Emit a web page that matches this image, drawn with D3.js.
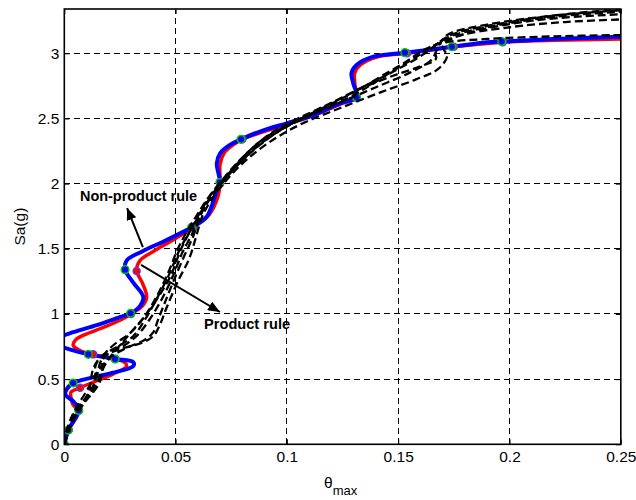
<!DOCTYPE html>
<html><head><meta charset="utf-8">
<script src="https://cdn.jsdelivr.net/npm/d3@7"></script>
<style>
html,body{margin:0;padding:0;background:#fff;}
svg{display:block;font-family:"Liberation Sans",Arial,sans-serif;}
</style></head>
<body><svg id="chart" width="636" height="500"></svg>
<script>
// ---------------- data ----------------
const xTicks = [0, 0.05, 0.1, 0.15, 0.2, 0.25];
const xTickLabels = ["0", "0.05", "0.1", "0.15", "0.2", "0.25"];
const yTicks = [0, 0.5, 1, 1.5, 2, 2.5, 3];
const yTickLabels = ["0", "0.5", "1", "1.5", "2", "2.5", "3"];

// Non-product rule (blue)
const nonProductCurve = [[0,0],[0.0018,0.11],[0.0065,0.26],[0.004,0.33],[0.0005,0.38],[0.001,0.42],[0.004,0.47],[0.012,0.51],[0.022,0.55],[0.031,0.6],[0.031,0.63],[0.0228,0.655],[0.0108,0.69],[0.004,0.72],[-0.002,0.76],[-0.003,0.79],[-0.002,0.82],[0.004,0.86],[0.0146,0.915],[0.024,0.97],[0.0298,1.005],[0.034,1.06],[0.0355,1.13],[0.031,1.24],[0.0273,1.34],[0.028,1.41],[0.035,1.48],[0.045,1.56],[0.0572,1.665],[0.064,1.746],[0.0685,1.95],[0.0699,2.01],[0.0685,2.156],[0.07,2.233],[0.0744,2.297],[0.0794,2.34],[0.0879,2.40],[0.0999,2.463],[0.11,2.514],[0.1238,2.616],[0.1313,2.662],[0.1298,2.77],[0.129,2.847],[0.1313,2.91],[0.1388,2.974],[0.153,3.005],[0.165,3.03],[0.1741,3.05],[0.19,3.085],[0.1965,3.09],[0.22,3.11],[0.25,3.127]];
const nonProductMarkers = [[0,0],[0.0018,0.11],[0.0065,0.26],[0.004,0.47],[0.0228,0.655],[0.0108,0.69],[0.0298,1.005],[0.0273,1.34],[0.0572,1.665],[0.0699,2.01],[0.0794,2.34],[0.1313,2.662],[0.153,3.005],[0.1741,3.05],[0.1965,3.09]];

// Product rule (red)
const productCurve = [[0,0],[0.002,0.11],[0.0065,0.26],[0.004,0.3],[0.003,0.36],[0.003,0.4],[0.0071,0.434],[0.015,0.49],[0.022,0.54],[0.028,0.6],[0.027,0.63],[0.023,0.655],[0.013,0.69],[0.007,0.72],[0.004,0.76],[0.005,0.8],[0.009,0.84],[0.018,0.9],[0.026,0.96],[0.030,1.0],[0.035,1.06],[0.037,1.13],[0.035,1.24],[0.0325,1.33],[0.034,1.41],[0.04,1.48],[0.048,1.56],[0.058,1.665],[0.065,1.76],[0.069,1.9],[0.07,2.0],[0.07,2.15],[0.072,2.24],[0.076,2.3],[0.08,2.34],[0.088,2.39],[0.1,2.455],[0.11,2.51],[0.124,2.61],[0.131,2.66],[0.1305,2.77],[0.1305,2.85],[0.133,2.91],[0.14,2.97],[0.154,3.0],[0.165,3.025],[0.175,3.05],[0.197,3.085],[0.22,3.1],[0.25,3.11]];
const productMarkers = [[0,0],[0.002,0.11],[0.0065,0.26],[0.0071,0.434],[0.023,0.655],[0.013,0.69],[0.030,1.0],[0.0325,1.33],[0.058,1.665],[0.07,2.0],[0.08,2.34],[0.131,2.66],[0.154,3.0],[0.175,3.05],[0.197,3.085]];

// Individual record curves (black dashed)
const record1 = [[0,0],[0.0015,0.1],[0.0035,0.2],[0.007,0.3],[0.012,0.4],[0.014,0.5],[0.014,0.6],[0.017,0.68],[0.024,0.75],[0.031,0.83],[0.036,0.95],[0.041,1.1],[0.047,1.3],[0.052,1.5],[0.057,1.65],[0.062,1.8],[0.068,1.95],[0.075,2.1],[0.083,2.25],[0.094,2.4],[0.105,2.5],[0.12,2.62],[0.135,2.75],[0.15,2.88],[0.162,3.0],[0.168,3.08],[0.175,3.15],[0.2,3.24],[0.225,3.3],[0.25,3.34]];
const record2 = [[0,0],[0.002,0.1],[0.005,0.25],[0.009,0.33],[0.013,0.42],[0.016,0.52],[0.018,0.6],[0.021,0.67],[0.028,0.74],[0.036,0.8],[0.040,0.86],[0.042,0.95],[0.045,1.08],[0.049,1.25],[0.054,1.45],[0.058,1.6],[0.061,1.75],[0.066,1.9],[0.072,2.03],[0.08,2.18],[0.09,2.33],[0.104,2.48],[0.118,2.6],[0.132,2.72],[0.148,2.83],[0.16,2.9],[0.167,2.96],[0.166,3.04],[0.172,3.12],[0.19,3.2],[0.22,3.28],[0.25,3.32]];
const record3 = [[0,0],[0.0015,0.1],[0.004,0.22],[0.008,0.32],[0.011,0.4],[0.012,0.5],[0.013,0.58],[0.016,0.66],[0.025,0.73],[0.035,0.78],[0.040,0.83],[0.043,0.92],[0.046,1.05],[0.051,1.25],[0.056,1.42],[0.059,1.58],[0.062,1.75],[0.067,1.9],[0.074,2.05],[0.083,2.2],[0.095,2.35],[0.108,2.47],[0.124,2.58],[0.142,2.7],[0.158,2.8],[0.168,2.88],[0.172,2.98],[0.17,3.05],[0.175,3.12],[0.2,3.2],[0.225,3.24],[0.25,3.26]];
const record4 = [[0,0],[0.001,0.1],[0.003,0.2],[0.006,0.3],[0.009,0.38],[0.012,0.47],[0.015,0.56],[0.019,0.64],[0.022,0.7],[0.026,0.78],[0.031,0.88],[0.037,1.0],[0.043,1.15],[0.048,1.3],[0.052,1.48],[0.056,1.62],[0.061,1.78],[0.066,1.92],[0.072,2.05],[0.08,2.2],[0.09,2.35],[0.103,2.47],[0.116,2.58],[0.13,2.7],[0.142,2.82],[0.153,2.93],[0.162,3.03],[0.17,3.08],[0.19,3.11],[0.22,3.13],[0.25,3.14]];
const record5 = [[0,0],[0.0015,0.1],[0.004,0.2],[0.008,0.3],[0.013,0.4],[0.016,0.48],[0.017,0.57],[0.017,0.64],[0.02,0.7],[0.027,0.76],[0.033,0.84],[0.038,0.95],[0.044,1.12],[0.049,1.3],[0.053,1.47],[0.057,1.6],[0.06,1.72],[0.064,1.85],[0.07,2.0],[0.077,2.13],[0.086,2.28],[0.098,2.42],[0.11,2.52],[0.125,2.63],[0.14,2.74],[0.155,2.85],[0.165,2.95],[0.168,3.05],[0.172,3.14],[0.19,3.22],[0.22,3.29],[0.25,3.33]];
const record6 = [[0,0],[0.002,0.1],[0.0045,0.2],[0.0075,0.28],[0.01,0.36],[0.013,0.45],[0.015,0.55],[0.016,0.62],[0.018,0.69],[0.022,0.76],[0.03,0.86],[0.036,0.98],[0.042,1.15],[0.047,1.33],[0.051,1.5],[0.055,1.63],[0.06,1.77],[0.065,1.9],[0.071,2.02],[0.079,2.16],[0.088,2.3],[0.1,2.44],[0.113,2.55],[0.128,2.66],[0.138,2.76],[0.148,2.87],[0.158,2.97],[0.165,3.05],[0.18,3.15],[0.21,3.25],[0.25,3.3]];
const recordCurves = [record1, record2, record3, record4, record5, record6];

// annotations (data coordinates)
const annotationTexts = ["Non-product rule", "Product rule"];
const annotationTextPos = [[0.00705, 1.867], [0.0628, 0.881]];
const annotationTextWidth = [117, 86];
const arrowFrom = [[0.0353, 1.512], [0.0345, 1.376]];
const arrowTo = [[0.0282, 1.813], [0.0699, 1.015]];

// ---------------- chart ----------------
const svg = d3.select("#chart");
const x = d3.scaleLinear().domain([0, 0.25]).range([64.3, 620.8]);
const y = d3.scaleLinear().domain([0, 3.34]).range([444.3, 9]);
const [x0, x1] = x.range();
const [y0, y1] = y.range();

svg.append("defs").append("clipPath").attr("id", "clip")
  .append("rect").attr("x", x0).attr("y", y1).attr("width", x1 - x0).attr("height", y0 - y1);

svg.append("defs").append("marker").attr("id", "arrow")
  .attr("viewBox", "0 0 12 10").attr("refX", 12).attr("refY", 5)
  .attr("markerWidth", 12).attr("markerHeight", 10).attr("markerUnits", "userSpaceOnUse")
  .attr("orient", "auto")
  .append("path").attr("d", "M0,0 L12,5 L0,10 Z").attr("fill", "#000");

// grid
const grid = svg.append("g").attr("stroke", "#000").attr("stroke-width", 1).attr("stroke-dasharray", "6,4").attr("shape-rendering", "crispEdges");
grid.selectAll(".gx").data(xTicks.filter(t => t > 0 && t < 0.25)).join("line")
  .attr("x1", d => x(d)).attr("x2", d => x(d)).attr("y1", y0).attr("y2", y1);
grid.selectAll(".gy").data(yTicks.filter(t => t > 0)).join("line")
  .attr("y1", d => y(d)).attr("y2", d => y(d)).attr("x1", x0).attr("x2", x1);

// curves
const line = d3.line().x(d => x(d[0])).y(d => y(d[1])).curve(d3.curveCatmullRom.alpha(0.5));
const plot = svg.append("g").attr("clip-path", "url(#clip)");

plot.append("path").datum(productCurve).attr("d", line)
  .attr("fill", "none").attr("stroke", "#ff0000").attr("stroke-width", 3.5).attr("stroke-linejoin", "round");
plot.append("path").datum(nonProductCurve).attr("d", line)
  .attr("fill", "none").attr("stroke", "#0000ff").attr("stroke-width", 4).attr("stroke-linejoin", "round");

plot.selectAll(".pm").data(productMarkers).join("circle")
  .attr("cx", d => x(d[0])).attr("cy", d => y(d[1])).attr("r", 3.5)
  .attr("fill", "#ff0000").attr("stroke", "#6a3cc8").attr("stroke-width", 1.5);
plot.selectAll(".nm").data(nonProductMarkers).join("circle")
  .attr("cx", d => x(d[0])).attr("cy", d => y(d[1])).attr("r", 3.8)
  .attr("fill", "#0000ff").attr("stroke", "#00c000").attr("stroke-width", 1.5);

plot.selectAll(".rec").data(recordCurves).join("path")
  .attr("d", line).attr("fill", "none").attr("stroke", "#000")
  .attr("stroke-width", 2.3).attr("stroke-dasharray", "8,4");

// axes (MATLAB style, inward ticks, full box)
const axFont = g => g.selectAll("text").attr("font-size", "15.5px").attr("fill", "#000")
  .attr("font-family", "'Liberation Sans', Arial, sans-serif");
svg.append("g").attr("transform", `translate(0,${y0})`)
  .call(d3.axisBottom(x).tickValues(xTicks).tickFormat((d, i) => xTickLabels[i]).tickSize(-5).tickPadding(7))
  .call(axFont).call(g => g.select(".domain").remove());
svg.append("g").attr("transform", `translate(${x0},0)`)
  .call(d3.axisLeft(y).tickValues(yTicks).tickFormat((d, i) => yTickLabels[i]).tickSize(-5).tickPadding(5))
  .call(axFont).call(g => g.select(".domain").remove());
svg.append("g").attr("transform", `translate(0,${y1})`)
  .call(d3.axisTop(x).tickValues(xTicks).tickFormat("").tickSize(-5))
  .call(g => g.select(".domain").remove());
svg.append("g").attr("transform", `translate(${x1},0)`)
  .call(d3.axisRight(y).tickValues(yTicks).tickFormat("").tickSize(-5))
  .call(g => g.select(".domain").remove());

svg.append("rect").attr("x", x0).attr("y", y1).attr("width", x1 - x0).attr("height", y0 - y1)
  .attr("fill", "none").attr("stroke", "#000").attr("stroke-width", 1.6);

// axis titles
svg.append("text").attr("transform", `translate(25,${(y0 + y1) / 2}) rotate(-90)`)
  .attr("text-anchor", "middle").attr("font-size", "15.5px").text("Sa(g)");
const xl = svg.append("text").attr("x", 324).attr("y", 488).attr("font-size", "15.5px");
xl.append("tspan").text("θ");
xl.append("tspan").attr("dy", 7).attr("font-size", "13px").text("max");

// annotations
annotationTexts.forEach((t, i) => {
  svg.append("text").attr("x", x(annotationTextPos[i][0])).attr("y", y(annotationTextPos[i][1]))
    .attr("font-size", "15px").attr("font-weight", "bold")
    .attr("textLength", annotationTextWidth[i]).attr("lengthAdjust", "spacingAndGlyphs")
    .text(t);
  svg.append("line")
    .attr("x1", x(arrowFrom[i][0])).attr("y1", y(arrowFrom[i][1]))
    .attr("x2", x(arrowTo[i][0])).attr("y2", y(arrowTo[i][1]))
    .attr("stroke", "#000").attr("stroke-width", 2).attr("marker-end", "url(#arrow)");
});
</script></body></html>
